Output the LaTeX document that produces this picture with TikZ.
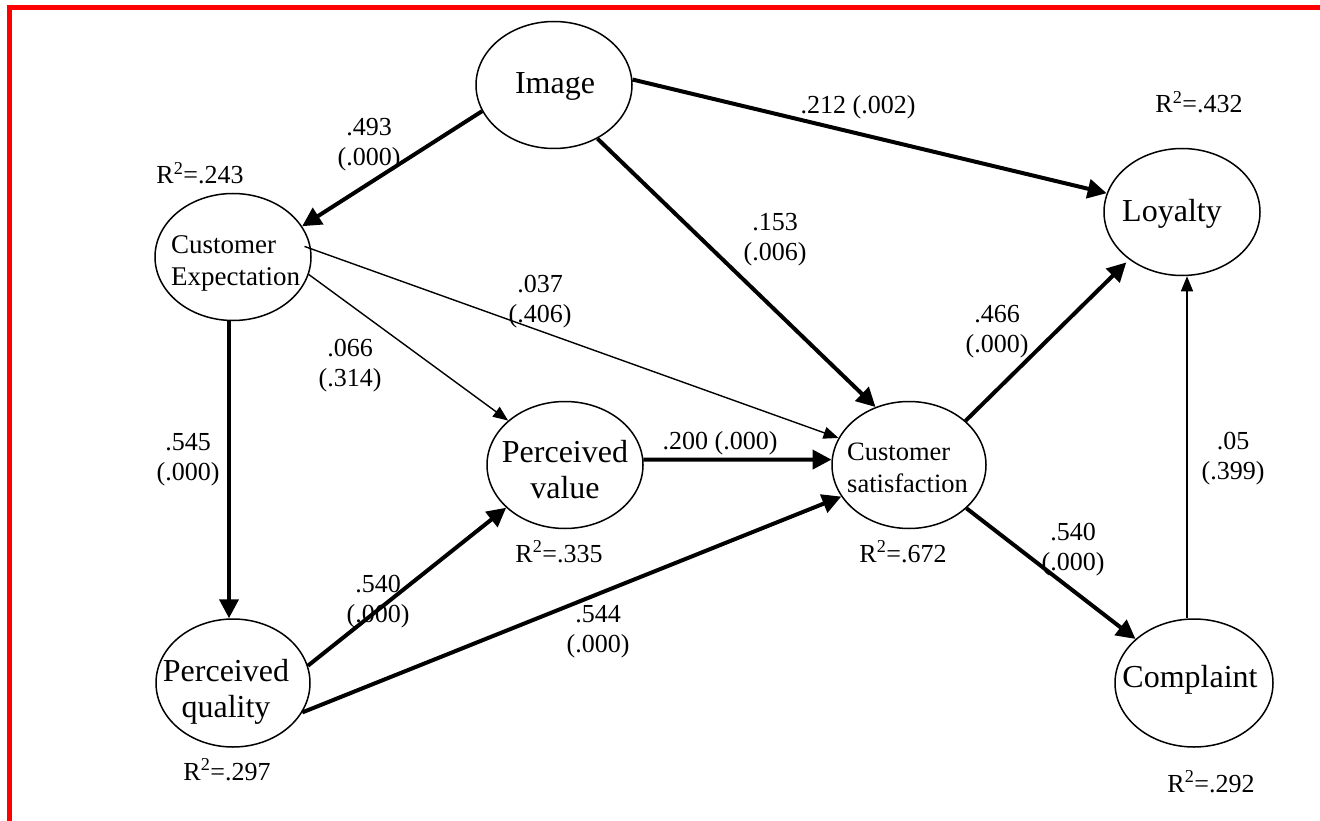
\documentclass[tikz,border=0pt]{standalone}
\usepackage{fontspec}
\setmainfont{Liberation Serif}
\usetikzlibrary{arrows.meta,shapes.geometric}
\begin{document}
\begin{tikzpicture}[x=1pt,y=-1pt,
  construct/.style={draw,ellipse,line width=1.5pt,minimum width=156pt,minimum height=127pt,inner sep=0pt},
  ctext/.style={inner sep=0pt,anchor=base,align=center,font=\fontsize{32}{36}\selectfont},
  csmall/.style={inner sep=0pt,anchor=base west,align=left,font=\fontsize{26.5}{32}\selectfont},
  lab/.style={inner sep=0pt,anchor=base,align=center,font=\fontsize{26}{30}\selectfont},
  strong/.style={line width=4pt,-{Triangle[length=19pt,width=19pt]}},
  weak/.style={line width=1.4pt,-{Triangle[length=15pt,width=12pt]}}
]
\useasboundingbox (0,0) rectangle (1320,821);
\fill[white] (0,0) rectangle (1320,821);
% frame
\fill[red] (7,5) rectangle (1320,10);
\fill[red] (7,5) rectangle (12,821);

% constructs
\node[construct] (img) at (554,85) {};
\node[construct] (ce) at (233,257) {};
\node[construct,minimum width=154pt,minimum height=128pt] (pq) at (233,683) {};
\node[construct] (pv) at (565,465) {};
\node[construct,minimum width=154pt] (cs) at (909,465) {};
\node[construct] (lo) at (1182,212) {};
\node[construct,minimum width=158pt,minimum height=128pt] (cp) at (1194,683) {};

% construct names (anchored at the baseline of the last line)
\node[ctext] (img-t) at (555,94) {Image};
\node[csmall,font=\fontsize{27}{32}\selectfont] (ce-t) at (171,285) {Customer\\Expectation};
\node[ctext] (pq-t) at (226,717) {Perceived\\quality};
\node[ctext] (pv-t) at (565,498) {Perceived\\value};
\node[csmall] (cs-t) at (847,492) {Customer\\satisfaction};
\node[ctext] (lo-t) at (1172,222) {Loyalty};
\node[ctext] (cp-t) at (1190,687) {Complaint};

% paths
\draw[strong] (img.200) -- (ce.24);
\draw[strong] (img.4) -- (lo.166);
\draw[strong] (img.309) -- (cs.120);
\draw[weak,shorten <=-7pt] (ce.6) -- (cs.159);
\draw[weak] (ce.347) -- (pv.142);
\draw[strong] ([xshift=-4pt]ce.south) -- ([xshift=-4pt]pq.north);
\draw[strong] (pq.13) -- (pv.216);
\draw[strong] (pq.337) -- (cs.205);
\draw[strong] (pv.4) -- (cs.176);
\draw[strong,shorten >=4pt] (cs.38) -- (lo.222);
\draw[strong] (cs.323) -- (cp.143);
\coordinate (cp-top) at ([xshift=-7pt]cp.north);
\draw[weak] (cp-top) -- (cp-top |- lo.south);

% path coefficients
\node[lab] (l1) at (369,166) {.493\\(.000)};
\node[lab] (l2) at (858,114) {.212 (.002)};
\node[lab] (l3) at (775,261) {.153\\(.006)};
\node[lab] (l4) at (540,322) {.037\\(.406)};
\node[lab] (l5) at (997,352) {.466\\(.000)};
\node[lab] (l6) at (350,386) {.066\\(.314)};
\node[lab] (l7) at (188,480) {.545\\(.000)};
\node[lab] (l8) at (720,449) {.200 (.000)};
\node[lab] (l9) at (1233,479) {.05\\(.399)};
\node[lab] (l10) at (378,622) {.540\\(.000)};
\node[lab] (l11) at (1073,570) {.540\\(.000)};
\node[lab] (l12) at (598,652) {.544\\(.000)};

% explained variance
\node[lab] (r1) at (1199,113) {R\textsuperscript{2}=.432};
\node[lab] (r2) at (200,184) {R\textsuperscript{2}=.243};
\node[lab] (r3) at (559,562) {R\textsuperscript{2}=.335};
\node[lab] (r4) at (903,562) {R\textsuperscript{2}=.672};
\node[lab] (r5) at (227,780) {R\textsuperscript{2}=.297};
\node[lab] (r6) at (1211,792) {R\textsuperscript{2}=.292};
\end{tikzpicture}
\end{document}
